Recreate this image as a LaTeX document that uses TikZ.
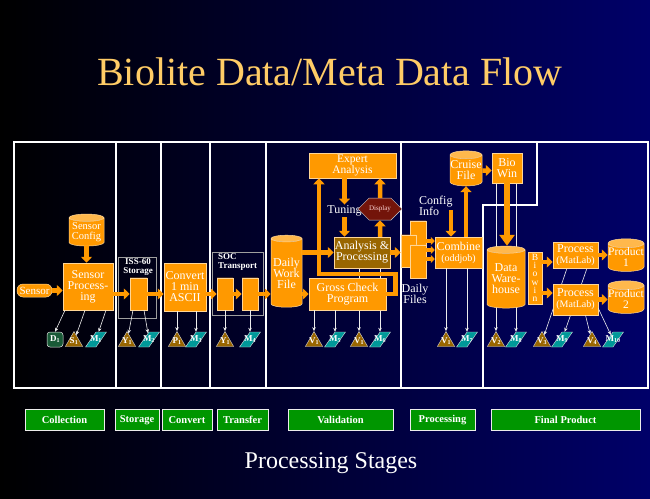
\documentclass[tikz,border=0pt]{standalone}
\usepackage{fontspec}
\setmainfont{Liberation Serif}
\usepackage{tikz}
\usetikzlibrary{arrows.meta, shapes.geometric, shapes.symbols, calc}
\definecolor{navyback}{RGB}{0,0,105}
\definecolor{boxorange}{RGB}{255,153,0}
\definecolor{boxedge}{RGB}{255,214,150}
\definecolor{titleorange}{RGB}{255,204,102}
\definecolor{vbrown}{RGB}{153,102,0}
\definecolor{mteal}{RGB}{0,153,153}
\definecolor{dgreen}{RGB}{25,90,55}
\definecolor{stagegreen}{RGB}{0,150,0}
\definecolor{displayred}{RGB}{115,20,10}
\newcommand{\glyphtxt}[2]{\makebox[0pt]{#1\textsubscript{#2}}}
\pgfdeclarelayer{back}
\pgfsetlayers{back,main}

\begin{document}
\begin{tikzpicture}[x=1pt, y=-1pt,
    process/.style = {rectangle, draw=boxedge, line width=0.5pt, fill=boxorange, text=white, align=center, inner sep=0pt, font=\fontsize{12}{11}\selectfont},
    store/.style = {cylinder, shape border rotate=90, aspect=0.25, draw=boxedge, line width=0.5pt, cylinder uses custom fill, cylinder body fill=boxorange, cylinder end fill=boxorange!70!white, text=white, align=center, inner sep=0pt, font=\fontsize{12}{11}\selectfont},
    smallstore/.style = {store, aspect=0.35},
    plain/.style = {text=white, align=center, inner sep=1pt, font=\fontsize{12}{11.5}\selectfont},
    boxlbl/.style = {text=white, align=center, inner sep=0pt, font=\fontsize{9}{9.5}\bfseries\selectfont},
    holder/.style = {rectangle, draw=gray!75!white, line width=0.7pt},
    frame/.style = {draw=white, line width=1.2pt},
    vtri/.style = {regular polygon, regular polygon sides=3, minimum size=20pt, inner sep=0pt, fill=vbrown, draw=white!70!gray, line width=0.4pt, text=white, font=\fontsize{9}{9}\bfseries\selectfont},
    mpar/.style = {trapezium, trapezium stretches=true, trapezium left angle=72, trapezium right angle=108, minimum width=21pt, minimum height=15pt, inner sep=0pt, fill=mteal, draw=white!70!gray, line width=0.4pt, text=white, font=\fontsize{9}{9}\bfseries\selectfont},
    dbox/.style = {rectangle, rounded corners=3pt, minimum width=16pt, minimum height=15pt, inner sep=0pt, fill=dgreen, draw=white!80!gray, line width=0.5pt, text=white, font=\fontsize{9}{9}\bfseries\selectfont},
    stage/.style = {rectangle, fill=stagegreen, draw=white!85!gray, line width=0.8pt, minimum height=21pt, inner sep=0pt, text=white, font=\fontsize{10.5}{10}\bfseries\selectfont},
    arrow/.style = {line width=4.5pt, boxorange, -{Triangle[length=6pt, width=11pt]}},
    bigarrow/.style = {line width=6pt, boxorange, -{Triangle[length=11pt, width=15pt]}},
    meta/.style = {line width=0.6pt, white!85!gray, -{Stealth[length=4pt, width=3.5pt]}}]

    % Background
    \begin{pgfonlayer}{back}
        \shade[left color=black, right color=navyback] (0,0) rectangle (650,498);
    \end{pgfonlayer}
    \useasboundingbox (0,0) rectangle (650,498);

    \node (title) [anchor=base, text=titleorange, font=\fontsize{40}{44}\selectfont] at (330,85) {Biolite Data/Meta Data Flow};
    \node (footer) [anchor=base, text=white, font=\fontsize{24}{26}\selectfont] at (331,468) {Processing Stages};

    % Stage frames
    \draw[frame] (14,142) rectangle (648,388);
    \draw[frame] (116,142) -- (116,388);
    \draw[frame] (161,142) -- (161,388);
    \draw[frame] (210,142) -- (210,388);
    \draw[frame] (266,142) -- (266,388);
    \draw[frame] (401,142) -- (401,388);
    \draw[frame] (483,388) -- (483,205) -- (537,205) -- (537,142);

    % Collection
    \node (sensorcfg) [store, minimum width=35pt, minimum height=32pt, font=\fontsize{10.5}{10}\selectfont] at (86.5,232) {Sensor\\Config};
    \node (sensorproc) [process, minimum width=50pt, minimum height=47pt] at (88,286.5) {Sensor\\Process-\\ing};
    \node (sensor) [process, rounded corners=6pt, minimum width=35pt, minimum height=13pt, inner sep=1pt, font=\fontsize{11}{11}\selectfont] at (34.5,290.5) {Sensor};
    \node (d1) [dbox] at (55,339.5) {\glyphtxt{D}{1}};
    \node (s1) [vtri] at (74,341.5) {\glyphtxt{S}{1}};
    \node (m1) [mpar] at (96,339.5) {\glyphtxt{M}{1}};

    % Storage
    \node (issbox) [holder, minimum width=38pt, minimum height=61pt] at (137,287.5) {};
    \node (isslbl) [boxlbl] at (138,267) {ISS-60\\Storage};
    \node (isscyl) [smallstore, minimum width=17pt, minimum height=32pt] at (138.5,294) {};
    \node (y1) [vtri] at (127,341.5) {\glyphtxt{Y}{1}};
    \node (m2) [mpar] at (149,339.5) {\glyphtxt{M}{2}};

    % Convert
    \node (convert) [process, minimum width=42pt, minimum height=48pt] at (185,287) {Convert\\1 min\\ASCII};
    \node (p1) [vtri] at (177,341.5) {\glyphtxt{P}{1}};
    \node (m3) [mpar] at (196,339.5) {\glyphtxt{M}{3}};

    % Transfer
    \node (socbox) [holder, minimum width=51pt, minimum height=63pt] at (237.5,283.5) {};
    \node (soclbl) [boxlbl, align=left, anchor=north west] at (218,253) {SOC\\Transport};
    \node (soccyla) [smallstore, minimum width=16pt, minimum height=32pt] at (225,294) {};
    \node (soccylb) [smallstore, minimum width=16pt, minimum height=32pt] at (250,294) {};
    \node (y1b) [vtri] at (225,341.5) {\glyphtxt{Y}{1}};
    \node (m4) [mpar] at (250,339.5) {\glyphtxt{M}{4}};

    % Validation
    \node (dailywork) [store, minimum width=31pt, minimum height=72pt] at (286.5,273) {Daily\\Work\\File};
    \node (expert) [process, minimum width=87pt, minimum height=25pt, font=\fontsize{11.5}{10}\selectfont] at (352.5,165.5) {Expert\\Analysis};
    \node (tuning) [plain] at (344.5,211) {Tuning};
    \node (display) [signal, signal to=east and west, fill=displayred, draw=white!60!gray, line width=0.5pt, minimum width=34pt, minimum height=22pt, inner sep=0pt, text=red!15!white, font=\fontsize{7}{7}\selectfont] at (380,209) {Display};
    \node (anaproc) [process, fill=vbrown, minimum width=56pt, minimum height=31pt] at (362,252.5) {Analysis \&\\Processing};
    \node (gross) [process, minimum width=77pt, minimum height=32pt] at (347.5,294) {Gross Check\\Program};
    \node (va) [vtri] at (314,341.5) {\glyphtxt{V}{1}};
    \node (m5) [mpar] at (335,339.5) {\glyphtxt{M}{5}};
    \node (vb) [vtri] at (359,341.5) {\glyphtxt{V}{1}};
    \node (m6) [mpar] at (380,339.5) {\glyphtxt{M}{6}};
    \coordinate (loopturn) at (319,274);

    % Processing
    \node (dfa) [smallstore, minimum width=16pt, minimum height=29pt] at (418,235.5) {};
    \node (dfb) [smallstore, minimum width=15pt, minimum height=32pt] at (408.5,251) {};
    \node (dfc) [smallstore, minimum width=16pt, minimum height=33pt] at (418,261.5) {};
    \node (dftext) [plain] at (415,294) {Daily\\Files};
    \node (combine) [process, minimum width=47pt, minimum height=31pt] at (458.5,252.5) {Combine\\{\fontsize{10}{10}\selectfont(oddjob)}};
    \node (cfginfo) [plain, align=left, anchor=west] at (418,206) {Config\\Info};
    \coordinate (cfgarrow) at (451,210);
    \node (cruise) [store, minimum width=32pt, minimum height=35pt] at (466,170.5) {Cruise\\File};
    \node (biowin) [process, minimum width=30pt, minimum height=30pt] at (507,168) {Bio\\Win};
    \node (vc) [vtri] at (446,341.5) {\glyphtxt{V}{1}};
    \node (m7) [mpar] at (467,339.5) {\glyphtxt{M}{7}};

    % Final product
    \node (warehouse) [store, minimum width=38pt, minimum height=62pt] at (506,279) {Data\\Ware-\\house};
    \node (biowinv) [process, minimum width=14pt, minimum height=52pt, font=\fontsize{9.5}{8.3}\selectfont] at (535,278) {B\\i\\o\\w\\i\\n};
    \node (proc1) [process, minimum width=45pt, minimum height=26pt] at (575.5,255) {Process\\{\fontsize{10}{10}\selectfont(MatLab)}};
    \node (proc2) [process, minimum width=45pt, minimum height=31pt] at (575.5,299.5) {Process\\{\fontsize{10}{10}\selectfont(MatLab)}};
    \node (prod1) [store, minimum width=36pt, minimum height=31pt, font=\fontsize{11.5}{11}\selectfont] at (626,257.5) {Product\\1};
    \node (prod2) [store, minimum width=36pt, minimum height=31pt, font=\fontsize{11.5}{11}\selectfont] at (626,299.5) {Product\\2};
    \node (v2) [vtri] at (496,341.5) {\glyphtxt{V}{2}};
    \node (m8) [mpar] at (516,339.5) {\glyphtxt{M}{8}};
    \node (v3) [vtri] at (542,341.5) {\glyphtxt{V}{3}};
    \node (m9) [mpar] at (562,339.5) {\glyphtxt{M}{9}};
    \node (v4) [vtri] at (592,341.5) {\glyphtxt{V}{4}};
    \node (m10) [mpar] at (613,339.5) {\glyphtxt{M}{10}};

    % Stage labels
    \node (stgcollect) [stage, minimum width=79pt] at (64.5,420) {Collection};
    \node (stgstorage) [stage, minimum width=44pt] at (137,420) {Storage};
    \node (stgconvert) [stage, minimum width=50pt] at (187,420) {Convert};
    \node (stgtransfer) [stage, minimum width=51pt] at (242.5,420) {Transfer};
    \node (stgvalid) [stage, minimum width=105pt] at (340.5,420) {Validation};
    \node (stgprocess) [stage, minimum width=65pt] at (442.5,420) {Processing};
    \node (stgfinal) [stage, minimum width=149pt] at (565.5,420) {Final Product};

    % Data arrows
    \draw[arrow] (sensor) -- (sensor -| sensorproc.west);
    \draw[arrow] (sensorcfg.south) -- (sensorcfg.south |- sensorproc.north);
    \draw[arrow] (sensorproc.east |- isscyl) -- (isscyl);
    \draw[arrow] (isscyl) -- (isscyl -| convert.west);
    \draw[arrow] (convert.east |- soccyla) -- (soccyla);
    \draw[arrow] (soccyla) -- (soccylb);
    \draw[arrow] (soccylb) -- (soccylb -| dailywork.west);
    \draw[arrow] (dailywork.east |- anaproc) -- (anaproc);
    \draw[arrow] (dailywork.east |- gross) -- (gross);
    \draw[arrow] (expert.south -| tuning) -- (tuning);
    \draw[arrow] (tuning) -- (tuning |- anaproc.north);
    \draw[arrow] (anaproc.north -| display) -- (display);
    \draw[arrow] (display) -- (display |- expert.south);
    \draw[arrow] (gross.east) -- ++(9,0) |- (loopturn) -- (loopturn |- expert.south);
    \draw[arrow] (anaproc) -- (anaproc -| dfb.west);
    \foreach \dy in {-11.5,-2.5,6.5}
        \draw[arrow, line width=3.5pt, -{Triangle[length=4pt, width=8pt]}] ($(dfc.east |- combine.west)+(0,\dy)$) -- ($(combine.west)+(0,\dy)$);
    \draw[arrow] (cfgarrow) -- (cfgarrow |- combine.north);
    \draw[arrow] (cruise |- combine.north) -- (cruise);
    \draw[arrow] (cruise) -- (cruise -| biowin.west);
    \draw[bigarrow] (biowin.south) -- (biowin.south |- warehouse.north);
    \draw[arrow] ($(biowinv.east |- proc1.west)+(0,7)$) -- ($(proc1.west)+(0,7)$);
    \draw[arrow] ($(biowinv.east |- proc2.west)+(0,-6.5)$) -- ($(proc2.west)+(0,-6.5)$);
    \draw[arrow] (proc1.east) -- (proc1.east -| prod1.west);
    \draw[arrow] (proc2.east) -- (proc2.east -| prod2.west);

    % Meta data arrows
    \draw[meta] ([xshift=-23pt]sensorproc.south) -- (d1.north);
    \draw[meta] ([xshift=-3pt]sensorproc.south) -- (s1);
    \draw[meta] ([xshift=18pt]sensorproc.south) -- (m1);
    \draw[meta] ([xshift=-5.5pt]isscyl.south) -- (y1);
    \draw[meta] ([xshift=5.5pt]isscyl.south) -- (m2);
    \draw[meta] (p1 |- convert.south) -- (p1);
    \draw[meta] (m3 |- convert.south) -- (m3);
    \draw[meta] (soccyla) -- (y1b);
    \draw[meta] (soccylb) -- (m4);
    \draw[meta] (va |- gross.south) -- (va);
    \draw[meta] (m5 |- gross.south) -- (m5);
    \draw[meta] (vc |- combine.south) -- (vc);
    \draw[meta] (m7 |- combine.south) -- (m7);
    \draw[meta] ([xshift=10pt]proc2.south) -- (v4);
    \draw[meta] ([yshift=7pt]proc2.south east) -- (m10);
    \begin{pgfonlayer}{back}
        \draw[meta] (vb |- anaproc.south) -- (vb);
        \draw[meta] (m6 |- anaproc.south) -- (m6);
        \draw[meta] (v2 |- biowin.south) -- (v2);
        \draw[meta] (m8 |- biowin.south) -- (m8);
        \draw[meta] ([xshift=-8.5pt]proc1.south) -- (v3);
        \draw[meta] ([xshift=11.5pt]proc1.south) -- (m9);
    \end{pgfonlayer}
\end{tikzpicture}
\end{document}
